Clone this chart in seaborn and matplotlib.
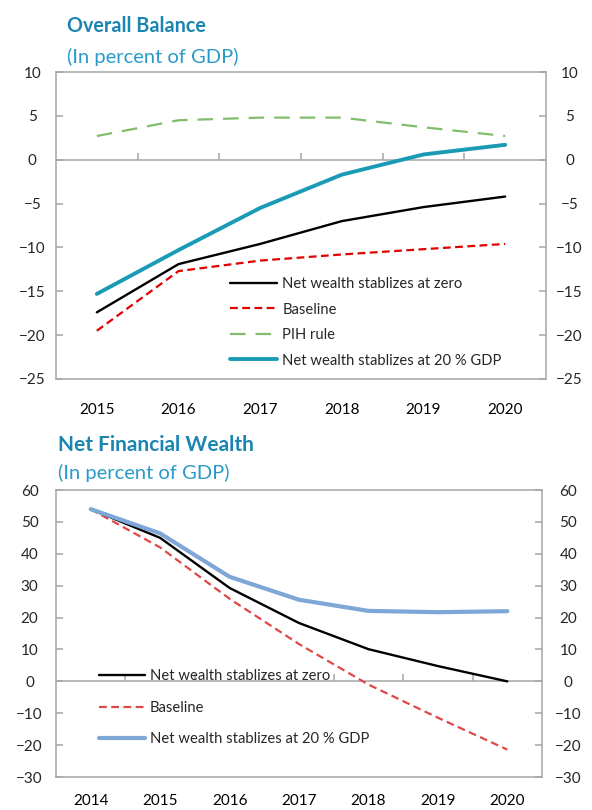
import matplotlib
matplotlib.use("Agg")
import matplotlib.pyplot as plt
import seaborn as sns
import pandas as pd

# ---------------- data ----------------
years_top = [2015, 2016, 2017, 2018, 2019, 2020]
ob_zero = [-17.4, -11.9, -9.6, -7.0, -5.4, -4.2]
ob_baseline = [-19.5, -12.7, -11.5, -10.8, -10.2, -9.6]
ob_pih = [2.7, 4.5, 4.8, 4.8, 3.7, 2.7]
ob_20 = [-15.3, -10.3, -5.5, -1.7, 0.6, 1.7]

years_bot = [2014, 2015, 2016, 2017, 2018, 2019, 2020]
nfw_zero = [54.0, 45.0, 29.3, 18.3, 10.1, 4.8, 0.0]
nfw_baseline = [54.0, 42.0, 25.9, 11.7, -1.0, -11.4, -21.4]
nfw_20 = [54.0, 46.4, 32.8, 25.6, 22.1, 21.7, 22.0]

top_yticks = [10, 5, 0, -5, -10, -15, -20, -25]
bot_yticks = [60, 50, 40, 30, 20, 10, 0, -10, -20, -30]

lbl_zero = "Net wealth stablizes at zero"
lbl_base = "Baseline"
lbl_pih = "PIH rule"
lbl_20 = "Net wealth stablizes at 20 % GDP"

# ---------------- style ----------------
sns.set_style("white")
plt.rcParams["font.family"] = ["Lato", "DejaVu Sans"]

GRAY = "#A6A6A6"
TITLE_C = "#1A85B0"
SUB_C = "#2A9AC9"

fig = plt.figure(figsize=(5.92, 8.10), dpi=100)
ax1 = fig.add_axes([0.0946, 0.5321, 0.8277, 0.3790])
ax2 = fig.add_axes([0.0946, 0.0407, 0.8210, 0.3543])

df_top = pd.DataFrame({"year": years_top, "zero": ob_zero, "base": ob_baseline,
                       "pih": ob_pih, "g20": ob_20})
df_bot = pd.DataFrame({"year": years_bot, "zero": nfw_zero, "base": nfw_baseline,
                       "g20": nfw_20})

# top panel
sns.lineplot(data=df_top, x="year", y="zero", ax=ax1, color="black", lw=1.7, label=lbl_zero)
sns.lineplot(data=df_top, x="year", y="base", ax=ax1, color="#E00000", lw=1.6,
             label=lbl_base, linestyle=(0, (3.5, 2)))
sns.lineplot(data=df_top, x="year", y="pih", ax=ax1, color="#80BD6C", lw=1.6,
             label=lbl_pih, linestyle=(0, (7, 4.5)))
sns.lineplot(data=df_top, x="year", y="g20", ax=ax1, color="#1A9BB5", lw=2.8, label=lbl_20)

# bottom panel
sns.lineplot(data=df_bot, x="year", y="base", ax=ax2, color="#E04848", lw=1.6,
             label=lbl_base, linestyle=(0, (3.5, 2)))
sns.lineplot(data=df_bot, x="year", y="zero", ax=ax2, color="black", lw=1.7, label=lbl_zero)
sns.lineplot(data=df_bot, x="year", y="g20", ax=ax2, color="#7EA6D6", lw=3.0, label=lbl_20)


def style_axes(ax, years, yticks, ymin, ymax, xpad, lpad):
    ax.set_xlim(years[0] - 0.5, years[-1] + 0.5)
    ax.set_ylim(ymin, ymax)
    ax.set_xlabel("")
    ax.set_ylabel("")
    for s in ax.spines.values():
        s.set_visible(True)
        s.set_color(GRAY)
        s.set_linewidth(1.1)
    ax.set_xticks(years)
    ax.set_xticklabels([str(y) for y in years])
    ax.tick_params(axis="x", length=0, pad=xpad, labelsize=11, colors="black")
    ax.set_yticks(yticks)
    ax.tick_params(axis="y", which="both", direction="in", length=5, width=1.1,
                   color=GRAY, left=True, right=True, labelleft=True,
                   labelright=True, labelsize=11)
    for t in ax.yaxis.get_major_ticks():
        t.label1.set_horizontalalignment("center")
        t.label2.set_horizontalalignment("center")
        t.set_pad(lpad)
    # zero line with small category separators
    frac = (0 - ymin) / (ymax - ymin)
    sec = ax.secondary_xaxis(frac)
    sec.set_xticks([y + 0.5 for y in years[:-1]])
    sec.tick_params(axis="x", labelbottom=False, labeltop=False, length=5,
                    width=1.1, color=GRAY,
                    direction="out" if frac >= 0.5 else "in")
    for s in sec.spines.values():
        s.set_color(GRAY)
        s.set_linewidth(1.1)


style_axes(ax1, years_top, top_yticks, -25, 10, xpad=17, lpad=17)
style_axes(ax2, years_bot, bot_yticks, -30, 60, xpad=12, lpad=19)

# legends
h1, l1 = ax1.get_legend_handles_labels()
d1 = dict(zip(l1, h1))
ax1.legend([d1[k] for k in [lbl_zero, lbl_base, lbl_pih, lbl_20]],
           [lbl_zero, lbl_base, lbl_pih, lbl_20],
           loc="upper left", bbox_to_anchor=(0.355, 0.332), frameon=False,
           fontsize=10.6, handlelength=3.2, handletextpad=0.35, labelspacing=0.78,
           borderpad=0, borderaxespad=0)

h2, l2 = ax2.get_legend_handles_labels()
d2 = dict(zip(l2, h2))
ax2.legend([d2[k] for k in [lbl_zero, lbl_base, lbl_20]],
           [lbl_zero, lbl_base, lbl_20],
           loc="upper left", bbox_to_anchor=(0.0885, 0.376), frameon=False,
           fontsize=10.6, handlelength=3.1, handletextpad=0.35, labelspacing=1.2,
           borderpad=0, borderaxespad=0)

# titles
fig.text(0.113, 0.9605, "Overall Balance", fontsize=14.2, fontweight="bold",
         color=TITLE_C, ha="left", va="baseline")
fig.text(0.113, 0.9222, "(In percent of GDP)", fontsize=14.5, color=SUB_C,
         ha="left", va="baseline")
fig.text(0.098, 0.4432, "Net Financial Wealth", fontsize=15, fontweight="bold",
         color=TITLE_C, ha="left", va="baseline")
fig.text(0.098, 0.4086, "(In percent of GDP)", fontsize=14.5, color=SUB_C,
         ha="left", va="baseline")

fig.savefig("out.png", dpi=100)
